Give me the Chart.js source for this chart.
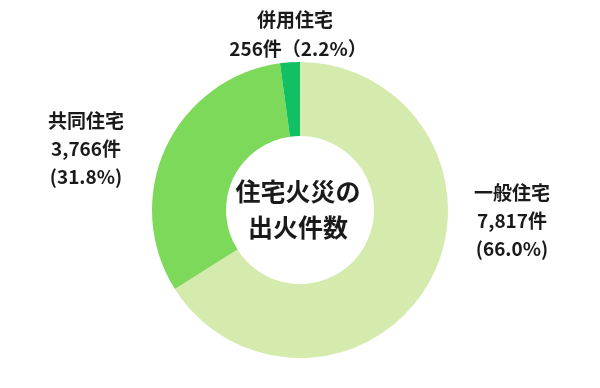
<!DOCTYPE html>
<html><head><meta charset="utf-8">
<script src="https://cdn.jsdelivr.net/npm/chart.js@4/dist/chart.umd.min.js"></script>
<style>html,body{margin:0;padding:0;background:#fff;}#wrap{width:600px;height:388px;}</style>
</head><body><div id="wrap"><canvas id="c" width="600" height="388"></canvas></div>
<script>
const categories = ["一般住宅", "共同住宅", "併用住宅"];
const counts = [7817, 3766, 256];
const countLabels = ["7,817件", "3,766件", "256件"];
const percentLabels = ["(66.0%)", "(31.8%)", "（2.2%）"];
const colors = ["#d5ebae", "#7dd95a", "#12c064"];
const centerTitle = ["住宅火災の", "出火件数"];

const FONT = '"Noto Sans CJK JP", "Noto Sans", sans-serif';

const labelPlugin = {
  id: 'labels',
  afterDraw(chart) {
    const ctx = chart.ctx;
    const arc0 = chart.getDatasetMeta(0).data[0];
    const cx = arc0.x, cy = arc0.y;
    ctx.save();
    ctx.fillStyle = '#1a1a1a';
    ctx.textAlign = 'center';
    ctx.textBaseline = 'middle';
    // center text
    ctx.font = 'bold 25px ' + FONT;
    ctx.fillText(centerTitle[0], cx - 2, cy - 19);
    ctx.fillText(centerTitle[1], cx - 2, cy + 17);
    // segment labels
    ctx.font = 'bold 19px ' + FONT;
    const lh = 28;
    // 一般住宅 (right)
    let x = cx + 212, y = cy + 11;
    ctx.fillText(categories[0], x, y - lh);
    ctx.fillText(countLabels[0], x, y);
    ctx.fillText(percentLabels[0], x, y + lh);
    // 共同住宅 (left)
    x = cx - 214; y = cy - 61;
    ctx.fillText(categories[1], x, y - lh);
    ctx.fillText(countLabels[1], x, y);
    ctx.fillText(percentLabels[1], x, y + lh);
    // 併用住宅 (top)
    ctx.fillText(categories[2], cx - 5, cy - 190);
    ctx.fillText(countLabels[2] + percentLabels[2], cx - 2, cy - 161);
    ctx.restore();
  }
};

new Chart(document.getElementById('c'), {
  type: 'doughnut',
  data: {
    labels: categories,
    datasets: [{
      data: counts,
      backgroundColor: colors,
      borderWidth: 0,
      hoverOffset: 0
    }]
  },
  options: {
    responsive: false,
    animation: false,
    cutout: '50%',
    layout: { padding: { top: 62, bottom: 30, left: 0, right: 0 } },
    plugins: { legend: { display: false }, tooltip: { enabled: false } }
  },
  plugins: [labelPlugin]
});
</script>
</body></html>
